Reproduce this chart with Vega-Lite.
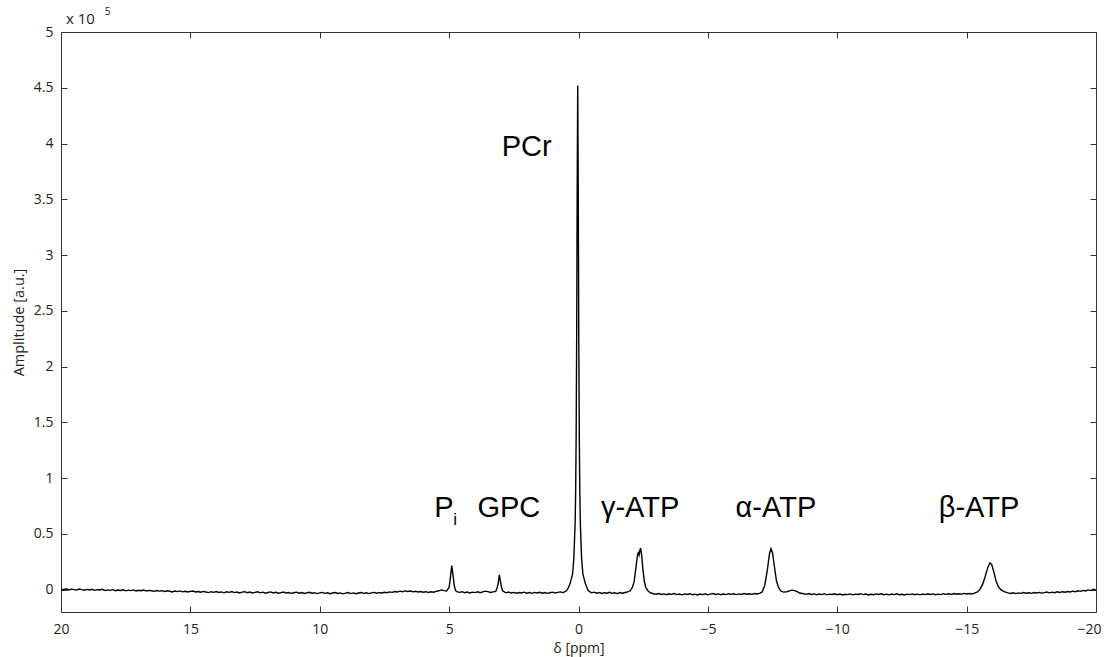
{
  "$schema": "https://vega.github.io/schema/vega-lite/v6.json",
  "width": 1035,
  "height": 580,
  "autosize": {"type": "none"},
  "padding": {"left": 61, "top": 32, "right": 11, "bottom": 45},
  "background": "white",
  "config": {
    "view": {"stroke": null},
    "axis": {
      "labelFont": "Open Sans",
      "titleFont": "Open Sans",
      "labelFontSize": 14,
      "titleFontSize": 14.5,
      "labelColor": "#222",
      "titleColor": "#222",
      "titleFontWeight": "normal",
      "domainColor": "#333",
      "tickColor": "#333",
      "tickSize": -6,
      "grid": false
    }
  },
  "datasets": {
    "spec": [
      {"d":20.0,"a":0.004},{"d":19.9,"a":0.0},{"d":19.8,"a":0.008},{"d":19.7,"a":-0.002},{"d":19.6,"a":0.005},{"d":19.5,"a":0.001},{"d":19.4,"a":-0.004},{"d":19.3,"a":0.006},{"d":19.2,"a":0.0},{"d":19.1,"a":-0.005},
      {"d":19.0,"a":0.003},{"d":18.9,"a":-0.002},{"d":18.8,"a":0.004},{"d":18.7,"a":-0.006},{"d":18.6,"a":0.0},{"d":18.5,"a":-0.003},{"d":18.4,"a":0.003},{"d":18.3,"a":-0.008},{"d":18.2,"a":-0.002},{"d":18.1,"a":-0.006},
      {"d":18.0,"a":0.0},{"d":17.9,"a":-0.009},{"d":17.8,"a":-0.003},{"d":17.7,"a":-0.007},{"d":17.6,"a":-0.001},{"d":17.5,"a":-0.01},{"d":17.4,"a":-0.004},{"d":17.3,"a":-0.008},{"d":17.2,"a":-0.002},{"d":17.1,"a":-0.011},
      {"d":17.0,"a":-0.005},{"d":16.9,"a":-0.009},{"d":16.8,"a":-0.003},{"d":16.7,"a":-0.012},{"d":16.6,"a":-0.006},{"d":16.5,"a":-0.01},{"d":16.4,"a":-0.015},{"d":16.3,"a":-0.007},{"d":16.2,"a":-0.013},{"d":16.1,"a":-0.009},
      {"d":16.0,"a":-0.016},{"d":15.9,"a":-0.01},{"d":15.8,"a":-0.014},{"d":15.7,"a":-0.02},{"d":15.6,"a":-0.012},{"d":15.5,"a":-0.017},{"d":15.4,"a":-0.011},{"d":15.3,"a":-0.019},{"d":15.2,"a":-0.014},{"d":15.1,"a":-0.021},
      {"d":15.0,"a":-0.015},{"d":14.9,"a":-0.012},{"d":14.8,"a":-0.02},{"d":14.7,"a":-0.016},{"d":14.6,"a":-0.023},{"d":14.5,"a":-0.015},{"d":14.4,"a":-0.021},{"d":14.3,"a":-0.026},{"d":14.2,"a":-0.018},{"d":14.1,"a":-0.024},
      {"d":14.0,"a":-0.017},{"d":13.9,"a":-0.025},{"d":13.8,"a":-0.02},{"d":13.7,"a":-0.028},{"d":13.6,"a":-0.019},{"d":13.5,"a":-0.024},{"d":13.4,"a":-0.017},{"d":13.3,"a":-0.026},{"d":13.2,"a":-0.021},{"d":13.1,"a":-0.029},
      {"d":13.0,"a":-0.022},{"d":12.9,"a":-0.018},{"d":12.8,"a":-0.027},{"d":12.7,"a":-0.021},{"d":12.6,"a":-0.03},{"d":12.5,"a":-0.024},{"d":12.4,"a":-0.019},{"d":12.3,"a":-0.028},{"d":12.2,"a":-0.022},{"d":12.1,"a":-0.031},
      {"d":12.0,"a":-0.025},{"d":11.9,"a":-0.02},{"d":11.8,"a":-0.029},{"d":11.7,"a":-0.023},{"d":11.6,"a":-0.032},{"d":11.5,"a":-0.026},{"d":11.4,"a":-0.021},{"d":11.3,"a":-0.03},{"d":11.2,"a":-0.025},{"d":11.1,"a":-0.033},
      {"d":11.0,"a":-0.027},{"d":10.9,"a":-0.022},{"d":10.8,"a":-0.031},{"d":10.7,"a":-0.026},{"d":10.6,"a":-0.034},{"d":10.5,"a":-0.028},{"d":10.4,"a":-0.023},{"d":10.3,"a":-0.032},{"d":10.2,"a":-0.027},{"d":10.1,"a":-0.035},
      {"d":10.0,"a":-0.029},{"d":9.9,"a":-0.024},{"d":9.8,"a":-0.033},{"d":9.7,"a":-0.028},{"d":9.6,"a":-0.036},{"d":9.5,"a":-0.03},{"d":9.4,"a":-0.025},{"d":9.3,"a":-0.034},{"d":9.2,"a":-0.029},{"d":9.1,"a":-0.037},
      {"d":9.0,"a":-0.031},{"d":8.9,"a":-0.026},{"d":8.8,"a":-0.035},{"d":8.7,"a":-0.029},{"d":8.6,"a":-0.036},{"d":8.5,"a":-0.03},{"d":8.4,"a":-0.025},{"d":8.3,"a":-0.033},{"d":8.2,"a":-0.028},{"d":8.1,"a":-0.035},
      {"d":8.0,"a":-0.029},{"d":7.9,"a":-0.024},{"d":7.8,"a":-0.032},{"d":7.7,"a":-0.026},{"d":7.6,"a":-0.03},{"d":7.5,"a":-0.023},{"d":7.4,"a":-0.027},{"d":7.3,"a":-0.02},{"d":7.2,"a":-0.024},{"d":7.1,"a":-0.017},
      {"d":7.0,"a":-0.021},{"d":6.9,"a":-0.013},{"d":6.8,"a":-0.018},{"d":6.7,"a":-0.011},{"d":6.6,"a":-0.016},{"d":6.5,"a":-0.012},{"d":6.4,"a":-0.019},{"d":6.3,"a":-0.014},{"d":6.2,"a":-0.021},{"d":6.1,"a":-0.016},
      {"d":6.0,"a":-0.023},{"d":5.9,"a":-0.018},{"d":5.8,"a":-0.025},{"d":5.7,"a":-0.019},{"d":5.6,"a":-0.023},{"d":5.5,"a":-0.015},{"d":5.4,"a":-0.01},{"d":5.3,"a":-0.002},{"d":5.2,"a":-0.008},{"d":5.1,"a":-0.012},
      {"d":5.0,"a":0.02},{"d":4.95,"a":0.11},{"d":4.9,"a":0.215},{"d":4.85,"a":0.13},{"d":4.8,"a":0.035},{"d":4.75,"a":-0.008},{"d":4.7,"a":-0.018},
      {"d":4.6,"a":-0.024},{"d":4.5,"a":-0.018},{"d":4.4,"a":-0.027},{"d":4.3,"a":-0.021},{"d":4.2,"a":-0.029},{"d":4.1,"a":-0.022},{"d":4.0,"a":-0.026},{"d":3.9,"a":-0.019},{"d":3.8,"a":-0.027},{"d":3.7,"a":-0.02},
      {"d":3.6,"a":-0.013},{"d":3.5,"a":-0.017},{"d":3.4,"a":-0.025},{"d":3.3,"a":-0.02},{"d":3.2,"a":-0.016},{"d":3.14,"a":0.02},{"d":3.1,"a":0.06},{"d":3.06,"a":0.134},{"d":3.02,"a":0.08},{"d":2.98,"a":0.025},
      {"d":2.93,"a":-0.01},{"d":2.85,"a":-0.022},
      {"d":2.8,"a":-0.028},{"d":2.7,"a":-0.021},{"d":2.6,"a":-0.03},{"d":2.5,"a":-0.024},{"d":2.4,"a":-0.032},{"d":2.3,"a":-0.025},{"d":2.2,"a":-0.029},{"d":2.1,"a":-0.022},{"d":2.0,"a":-0.031},{"d":1.9,"a":-0.026},
      {"d":1.8,"a":-0.033},{"d":1.7,"a":-0.024},{"d":1.6,"a":-0.03},{"d":1.5,"a":-0.023},{"d":1.4,"a":-0.031},{"d":1.3,"a":-0.025},{"d":1.2,"a":-0.033},{"d":1.1,"a":-0.027},{"d":1.0,"a":-0.022},{"d":0.9,"a":-0.03},
      {"d":0.8,"a":-0.024},{"d":0.7,"a":-0.02},{"d":0.6,"a":-0.026},{"d":0.5,"a":-0.015},{"d":0.43,"a":0.0},
      {"d":0.33,"a":0.05},{"d":0.23,"a":0.14},{"d":0.18,"a":0.28},{"d":0.13,"a":0.6},{"d":0.11,"a":0.88},{"d":0.09,"a":1.4},{"d":0.07,"a":2.3},{"d":0.05,"a":3.6},{"d":0.03,"a":4.52},{"d":0.01,"a":3.6},
      {"d":-0.01,"a":2.3},{"d":-0.03,"a":1.4},{"d":-0.05,"a":0.88},{"d":-0.07,"a":0.6},{"d":-0.12,"a":0.28},{"d":-0.17,"a":0.14},{"d":-0.27,"a":0.05},{"d":-0.37,"a":-0.005},{"d":-0.45,"a":-0.02},
      {"d":-0.5,"a":-0.028},{"d":-0.6,"a":-0.022},{"d":-0.7,"a":-0.031},{"d":-0.8,"a":-0.025},{"d":-0.9,"a":-0.034},{"d":-1.0,"a":-0.027},{"d":-1.1,"a":-0.032},{"d":-1.2,"a":-0.024},{"d":-1.3,"a":-0.033},{"d":-1.4,"a":-0.028},
      {"d":-1.5,"a":-0.035},{"d":-1.6,"a":-0.026},{"d":-1.7,"a":-0.032},{"d":-1.8,"a":-0.025},{"d":-1.9,"a":-0.02},
      {"d":-2.0,"a":-0.01},{"d":-2.08,"a":0.02},{"d":-2.15,"a":0.07},{"d":-2.22,"a":0.2},{"d":-2.28,"a":0.31},{"d":-2.31,"a":0.33},{"d":-2.34,"a":0.31},{"d":-2.37,"a":0.35},{"d":-2.4,"a":0.374},{"d":-2.44,"a":0.31},
      {"d":-2.49,"a":0.18},{"d":-2.54,"a":0.08},{"d":-2.6,"a":0.02},{"d":-2.7,"a":-0.015},{"d":-2.8,"a":-0.03},
      {"d":-2.9,"a":-0.036},{"d":-3.0,"a":-0.041},{"d":-3.1,"a":-0.034},{"d":-3.2,"a":-0.043},{"d":-3.3,"a":-0.038},{"d":-3.4,"a":-0.045},{"d":-3.5,"a":-0.037},{"d":-3.6,"a":-0.042},{"d":-3.7,"a":-0.035},{"d":-3.8,"a":-0.044},
      {"d":-3.9,"a":-0.039},{"d":-4.0,"a":-0.046},{"d":-4.1,"a":-0.038},{"d":-4.2,"a":-0.043},{"d":-4.3,"a":-0.036},{"d":-4.4,"a":-0.045},{"d":-4.5,"a":-0.04},{"d":-4.6,"a":-0.047},{"d":-4.7,"a":-0.039},{"d":-4.8,"a":-0.044},
      {"d":-4.9,"a":-0.037},{"d":-5.0,"a":-0.046},{"d":-5.1,"a":-0.04},{"d":-5.2,"a":-0.035},{"d":-5.3,"a":-0.043},{"d":-5.4,"a":-0.038},{"d":-5.5,"a":-0.045},{"d":-5.6,"a":-0.039},{"d":-5.7,"a":-0.044},{"d":-5.8,"a":-0.036},
      {"d":-5.9,"a":-0.042},{"d":-6.0,"a":-0.037},{"d":-6.1,"a":-0.044},{"d":-6.2,"a":-0.038},{"d":-6.3,"a":-0.043},{"d":-6.4,"a":-0.035},{"d":-6.5,"a":-0.041},{"d":-6.6,"a":-0.036},{"d":-6.7,"a":-0.042},{"d":-6.8,"a":-0.034},
      {"d":-6.9,"a":-0.039},{"d":-7.0,"a":-0.033},
      {"d":-7.1,"a":-0.02},{"d":-7.2,"a":0.04},{"d":-7.3,"a":0.18},{"d":-7.38,"a":0.32},{"d":-7.44,"a":0.367},{"d":-7.5,"a":0.33},{"d":-7.57,"a":0.21},{"d":-7.65,"a":0.08},{"d":-7.73,"a":0.02},{"d":-7.82,"a":-0.012},
      {"d":-7.92,"a":-0.022},{"d":-8.05,"a":-0.018},{"d":-8.15,"a":-0.01},{"d":-8.25,"a":-0.004},{"d":-8.35,"a":-0.008},{"d":-8.45,"a":-0.018},{"d":-8.55,"a":-0.03},
      {"d":-8.7,"a":-0.036},{"d":-8.8,"a":-0.042},{"d":-8.9,"a":-0.035},{"d":-9.0,"a":-0.043},{"d":-9.1,"a":-0.038},{"d":-9.2,"a":-0.045},{"d":-9.3,"a":-0.039},{"d":-9.4,"a":-0.044},{"d":-9.5,"a":-0.036},{"d":-9.6,"a":-0.046},
      {"d":-9.7,"a":-0.04},{"d":-9.8,"a":-0.043},{"d":-9.9,"a":-0.037},{"d":-10.0,"a":-0.045},{"d":-10.1,"a":-0.039},{"d":-10.2,"a":-0.047},{"d":-10.3,"a":-0.041},{"d":-10.4,"a":-0.044},{"d":-10.5,"a":-0.038},{"d":-10.6,"a":-0.046},
      {"d":-10.7,"a":-0.04},{"d":-10.8,"a":-0.043},{"d":-10.9,"a":-0.036},{"d":-11.0,"a":-0.044},{"d":-11.1,"a":-0.039},{"d":-11.2,"a":-0.047},{"d":-11.3,"a":-0.041},{"d":-11.4,"a":-0.045},{"d":-11.5,"a":-0.038},{"d":-11.6,"a":-0.043},
      {"d":-11.7,"a":-0.037},{"d":-11.8,"a":-0.045},{"d":-11.9,"a":-0.04},{"d":-12.0,"a":-0.046},{"d":-12.1,"a":-0.039},{"d":-12.2,"a":-0.044},{"d":-12.3,"a":-0.037},{"d":-12.4,"a":-0.045},{"d":-12.5,"a":-0.041},{"d":-12.6,"a":-0.047},
      {"d":-12.7,"a":-0.04},{"d":-12.8,"a":-0.044},{"d":-12.9,"a":-0.038},{"d":-13.0,"a":-0.045},{"d":-13.1,"a":-0.04},{"d":-13.2,"a":-0.046},{"d":-13.3,"a":-0.039},{"d":-13.4,"a":-0.044},{"d":-13.5,"a":-0.037},{"d":-13.6,"a":-0.043},
      {"d":-13.7,"a":-0.038},{"d":-13.8,"a":-0.045},{"d":-13.9,"a":-0.04},{"d":-14.0,"a":-0.044},{"d":-14.1,"a":-0.036},{"d":-14.2,"a":-0.042},{"d":-14.3,"a":-0.037},{"d":-14.4,"a":-0.043},{"d":-14.5,"a":-0.035},{"d":-14.6,"a":-0.041},
      {"d":-14.7,"a":-0.036},{"d":-14.8,"a":-0.04},{"d":-14.9,"a":-0.033},{"d":-15.0,"a":-0.039},{"d":-15.1,"a":-0.034},{"d":-15.2,"a":-0.038},{"d":-15.3,"a":-0.031},
      {"d":-15.42,"a":-0.02},{"d":-15.52,"a":0.005},{"d":-15.62,"a":0.05},{"d":-15.72,"a":0.12},{"d":-15.82,"a":0.2},{"d":-15.9,"a":0.24},{"d":-15.97,"a":0.225},{"d":-16.05,"a":0.16},{"d":-16.13,"a":0.085},{"d":-16.22,"a":0.03},
      {"d":-16.32,"a":0.0},{"d":-16.45,"a":-0.018},{"d":-16.6,"a":-0.028},
      {"d":-16.7,"a":-0.034},{"d":-16.8,"a":-0.028},{"d":-16.9,"a":-0.035},{"d":-17.0,"a":-0.029},{"d":-17.1,"a":-0.033},{"d":-17.2,"a":-0.026},{"d":-17.3,"a":-0.032},{"d":-17.4,"a":-0.027},{"d":-17.5,"a":-0.033},{"d":-17.6,"a":-0.025},
      {"d":-17.7,"a":-0.03},{"d":-17.8,"a":-0.024},{"d":-17.9,"a":-0.031},{"d":-18.0,"a":-0.026},{"d":-18.1,"a":-0.021},{"d":-18.2,"a":-0.028},{"d":-18.3,"a":-0.022},{"d":-18.4,"a":-0.027},{"d":-18.5,"a":-0.019},{"d":-18.6,"a":-0.025},
      {"d":-18.7,"a":-0.018},{"d":-18.8,"a":-0.023},{"d":-18.9,"a":-0.016},{"d":-19.0,"a":-0.021},{"d":-19.1,"a":-0.013},{"d":-19.2,"a":-0.018},{"d":-19.3,"a":-0.01},{"d":-19.4,"a":-0.015},{"d":-19.5,"a":-0.006},{"d":-19.6,"a":-0.011},
      {"d":-19.7,"a":-0.002},{"d":-19.8,"a":-0.008},{"d":-19.9,"a":0.003},{"d":-20.0,"a":-0.002}
    ],
    "labels": [
      {"t":"PCr","d":2.0,"a":3.965},
      {"t":"P","d":5.2,"a":0.735},
      {"t":"GPC","d":2.69,"a":0.735},
      {"t":"γ-ATP","d":-2.38,"a":0.735},
      {"t":"α-ATP","d":-7.63,"a":0.735},
      {"t":"β-ATP","d":-15.48,"a":0.735}
    ],
    "sub": [{"t":"i","d":4.77,"a":0.625}],
    "mult": [{"t":"x 10","d":19.25,"a":5.12}],
    "exp": [{"t":"5","d":18.2,"a":5.18}]
  },
  "layer": [
    {
      "data": {"name": "spec"},
      "mark": {"type": "line", "color": "#000", "strokeWidth": 1.4, "clip": true},
      "encoding": {
        "x": {
          "field": "d", "type": "quantitative",
          "scale": {"domain": [-20, 20], "reverse": true, "nice": false, "zero": false},
          "axis": {"orient": "bottom", "values": [20,15,10,5,0,-5,-10,-15,-20], "title": "δ [ppm]", "titleFontSize": 14, "labelPadding": 16, "titlePadding": 5, "labelFlush": false,
                   "labelOffset": {"condition": {"test": "datum.value == -20", "value": -7}, "value": 0}}
        },
        "y": {
          "field": "a", "type": "quantitative",
          "scale": {"domain": [-0.2, 5], "nice": false, "zero": false},
          "axis": {"orient": "left", "values": [0,0.5,1,1.5,2,2.5,3,3.5,4,4.5,5], "format": "~g", "title": "Amplitude [a.u.]", "labelPadding": 14, "titlePadding": 7, "labelFlush": false}
        }
      }
    },
    {
      "data": {"name": "labels"},
      "mark": {"type": "text", "font": "Liberation Sans", "fontSize": 29, "color": "#000", "baseline": "middle", "align": "center"},
      "encoding": {
        "x": {"field": "d", "type": "quantitative", "axis": {"orient": "top", "values": [20,15,10,5,0,-5,-10,-15,-20], "labels": false, "title": null}},
        "y": {"field": "a", "type": "quantitative", "axis": {"orient": "right", "values": [0,0.5,1,1.5,2,2.5,3,3.5,4,4.5,5], "labels": false, "title": null}},
        "text": {"field": "t"}
      }
    },
    {
      "data": {"name": "sub"},
      "mark": {"type": "text", "font": "Liberation Sans", "fontSize": 17, "color": "#000", "baseline": "middle", "align": "center"},
      "encoding": {
        "x": {"field": "d", "type": "quantitative", "axis": null},
        "y": {"field": "a", "type": "quantitative", "axis": null},
        "text": {"field": "t"}
      }
    },
    {
      "data": {"name": "mult"},
      "mark": {"type": "text", "font": "Open Sans", "fontSize": 15, "color": "#222", "baseline": "middle", "align": "center"},
      "encoding": {
        "x": {"field": "d", "type": "quantitative", "axis": null},
        "y": {"field": "a", "type": "quantitative", "axis": null},
        "text": {"field": "t"}
      }
    },
    {
      "data": {"name": "exp"},
      "mark": {"type": "text", "font": "Open Sans", "fontSize": 10, "color": "#222", "baseline": "middle", "align": "center"},
      "encoding": {
        "x": {"field": "d", "type": "quantitative", "axis": null},
        "y": {"field": "a", "type": "quantitative", "axis": null},
        "text": {"field": "t"}
      }
    }
  ],
  "resolve": {"axis": {"x": "independent", "y": "independent"}}
}
